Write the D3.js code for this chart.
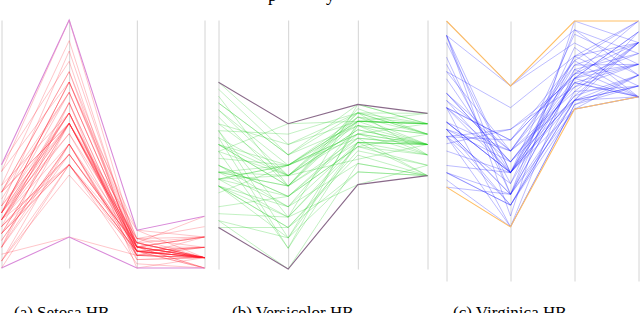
<!DOCTYPE html>
<html><head><meta charset="utf-8">
<script src="https://cdn.jsdelivr.net/npm/d3@7"></script>
<style>html,body{margin:0;padding:0;background:#fff;overflow:hidden}svg{display:block}</style>
</head><body>
<svg id="c" width="640" height="313"></svg>
<script>
// Feature axes (Iris) and global domains used for normalisation
const features = ["Sepal length", "Sepal width", "Petal length", "Petal width"];
const featureMin = [4.3, 2.0, 1.0, 0.1];
const featureMax = [7.9, 4.4, 6.9, 2.5];

// Samples drawn inside each hyperbox
const setosa = [
[5.1,3.5,1.4,0.2],[4.9,3.0,1.4,0.2],[4.7,3.2,1.3,0.2],[4.6,3.1,1.5,0.2],[5.0,3.6,1.4,0.2],
[5.4,3.9,1.7,0.4],[4.6,3.4,1.4,0.3],[5.0,3.4,1.5,0.2],[4.4,2.9,1.4,0.2],[4.9,3.1,1.5,0.1],
[5.4,3.7,1.5,0.2],[4.8,3.4,1.6,0.2],[4.8,3.0,1.4,0.1],[4.3,3.0,1.1,0.1],[5.8,4.0,1.2,0.2],
[5.7,4.4,1.5,0.4],[5.4,3.9,1.3,0.4],[5.1,3.5,1.4,0.3],[5.7,3.8,1.7,0.3],[5.1,3.8,1.5,0.3],
[5.4,3.4,1.7,0.2],[5.1,3.7,1.5,0.4],[4.6,3.6,1.0,0.2],[5.1,3.3,1.7,0.5],[4.8,3.4,1.9,0.2],
[5.0,3.0,1.6,0.2],[5.0,3.4,1.6,0.4],[5.2,3.5,1.5,0.2],[5.2,3.4,1.4,0.2],[4.7,3.2,1.6,0.2],
[4.8,3.1,1.6,0.2],[5.4,3.4,1.5,0.4],[5.2,4.1,1.5,0.1],[5.5,4.2,1.4,0.2],[4.9,3.1,1.5,0.2],
[5.0,3.2,1.2,0.2],[5.5,3.5,1.3,0.2],[4.9,3.6,1.4,0.1],[4.4,3.0,1.3,0.2],[5.1,3.4,1.5,0.2],
[5.0,3.5,1.3,0.3],[4.5,2.3,1.3,0.3],[4.4,3.2,1.3,0.2],[5.0,3.5,1.6,0.6],[5.1,3.8,1.9,0.4],
[4.8,3.0,1.4,0.3],[5.1,3.8,1.6,0.2],[4.6,3.2,1.4,0.2],[5.3,3.7,1.5,0.2],[5.0,3.3,1.4,0.2]
];
const versicolor = [
[7.0,3.2,4.7,1.4],[6.4,3.2,4.5,1.5],[6.9,3.1,4.9,1.5],[5.5,2.3,4.0,1.3],[6.5,2.8,4.6,1.5],
[5.7,2.8,4.5,1.3],[6.3,3.3,4.7,1.6],[4.9,2.4,3.3,1.0],[6.6,2.9,4.6,1.3],[5.2,2.7,3.9,1.4],
[5.0,2.0,3.5,1.0],[5.9,3.0,4.2,1.5],[6.0,2.2,4.0,1.0],[6.1,2.9,4.7,1.4],[5.6,2.9,3.6,1.3],
[6.7,3.1,4.4,1.4],[5.6,3.0,4.5,1.5],[5.8,2.7,4.1,1.0],[6.2,2.2,4.5,1.5],[5.6,2.5,3.9,1.1],
[6.1,2.8,4.0,1.3],[6.3,2.5,4.9,1.5],[6.1,2.8,4.7,1.2],[6.4,2.9,4.3,1.3],[6.6,3.0,4.4,1.4],
[6.8,2.8,4.8,1.4],[6.0,2.9,4.5,1.5],[5.7,2.6,3.5,1.0],[5.5,2.4,3.8,1.1],[5.5,2.4,3.7,1.0],
[5.8,2.7,3.9,1.2],[5.4,3.0,4.5,1.5],[6.0,3.4,4.5,1.6],[6.7,3.1,4.7,1.5],[6.3,2.3,4.4,1.3],
[5.6,3.0,4.1,1.3],[5.5,2.5,4.0,1.3],[5.5,2.6,4.4,1.2],[6.1,3.0,4.6,1.4],[5.8,2.6,4.0,1.2],
[5.0,2.3,3.3,1.0],[5.6,2.7,4.2,1.3],[5.7,3.0,4.2,1.2],[5.7,2.9,4.2,1.3],[6.2,2.9,4.3,1.3],
[5.1,2.5,3.0,1.1],[5.7,2.8,4.1,1.3]
];
const virginica = [
[6.3,3.3,6.0,2.5],[5.8,2.7,5.1,1.9],[7.1,3.0,5.9,2.1],[6.3,2.9,5.6,1.8],[6.5,3.0,5.8,2.2],
[7.6,3.0,6.6,2.1],[7.3,2.9,6.3,1.8],[6.7,2.5,5.8,1.8],[7.2,3.6,6.1,2.5],[6.5,3.2,5.1,2.0],
[6.4,2.7,5.3,1.9],[6.8,3.0,5.5,2.1],[5.7,2.5,5.0,2.0],[5.8,2.8,5.1,2.4],[6.4,3.2,5.3,2.3],
[6.5,3.0,5.5,1.8],[7.7,3.8,6.7,2.2],[7.7,2.6,6.9,2.3],[6.9,3.2,5.7,2.3],[5.6,2.8,4.9,2.0],
[7.7,2.8,6.7,2.0],[6.3,2.7,4.9,1.8],[6.7,3.3,5.7,2.1],[7.2,3.2,6.0,1.8],[6.1,3.0,4.9,1.8],
[6.4,2.8,5.6,2.1],[7.4,2.8,6.1,1.9],[7.9,3.8,6.4,2.0],[6.4,2.8,5.6,2.2],[7.7,3.0,6.1,2.3],
[6.3,3.4,5.6,2.4],[6.4,3.1,5.5,1.8],[6.9,3.1,5.4,2.1],[6.7,3.1,5.6,2.4],[6.9,3.1,5.1,2.3],
[5.8,2.7,5.1,1.9],[6.8,3.2,5.9,2.3],[6.7,3.3,5.7,2.5],[6.7,3.0,5.2,2.3],[6.3,2.5,5.0,1.9],
[6.5,3.0,5.2,2.0],[6.2,3.4,5.4,2.3],[5.9,3.0,5.1,1.8]
];

// Hyperbox min / max corners
const setosaHB = [[4.3,2.3,1.0,0.1],[5.8,4.4,1.9,0.6]];
const versicolorHB = [[4.9,2.0,3.0,1.0],[7.0,3.4,4.9,1.6]];
const virginicaHB = [[5.6,2.5,4.9,1.8],[7.9,3.8,6.9,2.5]];

const captions = ["(a) Setosa HB", "(b) Versicolor HB", "(c) Virginica HB"];

const panels = [
  {data: setosa, hb: setosaHB, x0: 1.5, x1: 204.5, top: 20, bottom: 268,
   color: "#ff1a2a", op: 0.28, hbColor: "#d98ad9", capX: 14},
  {data: versicolor, hb: versicolorHB, x0: 218.5, x1: 427.5, top: 20, bottom: 269,
   color: "#22cc22", op: 0.3, hbColor: "#8a6a8a", capX: 232},
  {data: virginica, hb: virginicaHB, x0: 446.5, x1: 638.5, top: 21, bottom: 281,
   color: "#1a1aff", op: 0.32, hbColor: "#ffbf66", capX: 453}
];

const svg = d3.select("#c");

panels.forEach((p, pi) => {
  const g = svg.append("g");
  const x = d3.scalePoint().domain(features).range([p.x0, p.x1]);
  const ys = features.map((f, i) => d3.scaleLinear().domain([featureMin[i], featureMax[i]]).range([p.bottom, p.top]));
  const line = d3.line().x((d, i) => x(features[i])).y((d, i) => ys[i](d));

  // axes
  features.forEach((f, i) => {
    const ax = d3.axisLeft(ys[i]).tickValues([]).tickSizeOuter(0);
    const a = g.append("g").attr("transform", `translate(${x(f)},0)`).call(ax);
    a.select(".domain").attr("stroke", "#d4d4d4").attr("stroke-width", 1);
  });

  g.append("g").selectAll("path").data(p.data).join("path")
    .attr("d", line).attr("fill", "none")
    .attr("stroke", p.color).attr("stroke-opacity", p.op).attr("stroke-width", 0.9);

  g.append("g").selectAll("path").data(p.hb).join("path")
    .attr("d", line).attr("fill", "none")
    .attr("stroke", p.hbColor).attr("stroke-width", 1.1);

  svg.append("text").attr("x", p.capX).attr("y", 318)
    .attr("font-family", "Liberation Serif, Times New Roman, serif")
    .attr("font-size", 17).attr("fill", "#000").text(captions[pi]);
});

// remnants of the text line above the figure
const topText = [{t: "p", x: 268}, {t: "y", x: 326}];
svg.selectAll("text.top").data(topText).join("text").attr("class", "top")
  .attr("x", d => d.x).attr("y", 1)
  .attr("font-family", "Liberation Serif, Times New Roman, serif")
  .attr("font-size", 18).attr("fill", "#000").text(d => d.t);
</script>
</body></html>
